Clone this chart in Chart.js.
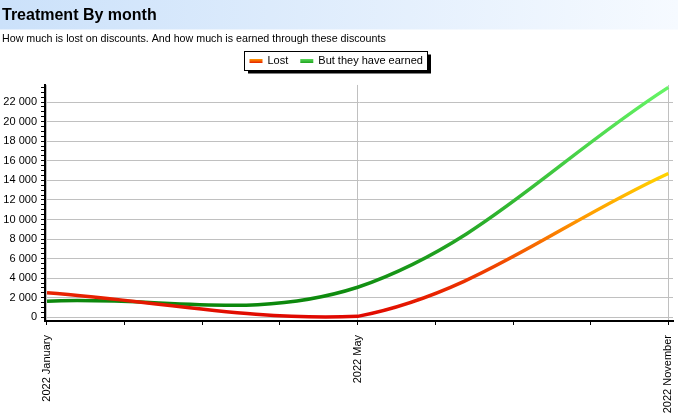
<!DOCTYPE html>
<html><head><meta charset="utf-8">
<script src="https://cdn.jsdelivr.net/npm/chart.js@4.4.1/dist/chart.umd.min.js"></script>
<style>html,body{margin:0;padding:0;background:#fff;} #wrap{width:678px;height:420px;position:relative;}</style>
</head><body><div id="wrap"><canvas id="c"></canvas></div>
<script>
const months = ['2022 January', '2022 May', '2022 November'];
const lostValues = [2500, 100, 14700];
const earnedValues = [1650, 3070, 23500];
const seriesNames = ['Lost', 'But they have earned'];
const titleText = 'Treatment By month';
const subtitleText = 'How much is lost on discounts. And how much is earned through these discounts';
const yMin = -375, yMax = 23750, yGridStep = 125, yMinorStep = 500, yMajorStep = 2000;
const xMinorStep = 0.25;

const FONT = 'Arial, "Liberation Sans", sans-serif';
function fmt(v){ return String(v).replace(/\B(?=(\d{3})+(?!\d))/g, ' '); }

function lineGradient(stops){
  return function(context){
    const chart = context.chart;
    const area = chart.chartArea;
    if (!area || !chart.scales.y) return stops[0][1];
    const ys = chart.scales.y;
    const vals = context.dataset.data.map(p => p.y);
    const lo = Math.min(...vals), hi = Math.max(...vals);
    const g = chart.ctx.createLinearGradient(0, ys.getPixelForValue(lo), 0, ys.getPixelForValue(hi));
    stops.forEach(s => g.addColorStop(s[0], s[1]));
    return g;
  };
}

const swatches = [
  [['0', '#ff9a00'], ['1', '#e52000']],
  [['0', '#5ad85a'], ['1', '#1fa51f']]
];

const titleBar = {
  id: 'titleBar',
  beforeDraw(chart){
    const ctx = chart.ctx;
    ctx.save();
    ctx.fillStyle = '#fff';
    ctx.fillRect(0, 0, chart.width, chart.height);
    const g = ctx.createLinearGradient(0, 0, chart.width, 0);
    g.addColorStop(0, '#cbe1fa');
    g.addColorStop(1, '#f6faff');
    ctx.fillStyle = g;
    ctx.fillRect(0, 0, chart.width, 29.5);
    ctx.restore();
  }
};

const boxLegend = {
  id: 'boxLegend',
  afterDraw(chart){
    const ctx = chart.ctx;
    ctx.save();
    ctx.font = '11px ' + FONT;
    const sw = 13, gapS = 5, gapI = 12, pad = 5;
    const items = chart.data.datasets.map((ds, i) => ({label: ds.label, w: ctx.measureText(ds.label).width, i}));
    let total = pad * 2 + gapI * (items.length - 1);
    items.forEach(it => total += sw + gapS + it.w);
    total = Math.round(total);
    const cx = 335, top = 51, h = 19;
    const left = Math.round(cx - total / 2) + 0.5;
    ctx.fillStyle = '#000';
    ctx.fillRect(left + 3.5, top + 3.5, total, h);
    ctx.fillStyle = '#fff';
    ctx.fillRect(left, top, total, h);
    ctx.strokeStyle = '#000';
    ctx.lineWidth = 1;
    ctx.strokeRect(left, top + 0.5, total, h);
    let x = left + pad;
    const cy = top + h / 2 + 0.5;
    items.forEach(it => {
      const g = ctx.createLinearGradient(0, cy - 2, 0, cy + 2);
      swatches[it.i].forEach(s => g.addColorStop(+s[0], s[1]));
      ctx.fillStyle = g;
      ctx.fillRect(x, cy - 2, sw, 4);
      x += sw + gapS;
      ctx.fillStyle = '#000';
      ctx.textBaseline = 'middle';
      ctx.textAlign = 'left';
      ctx.fillText(it.label, x, cy);
      x += it.w + gapI;
    });
    ctx.restore();
  }
};

new Chart(document.getElementById('c'), {
  type: 'line',
  data: {
    datasets: [
      {
        label: seriesNames[0],
        data: months.map((m, i) => ({x: i, y: lostValues[i]})),
        borderColor: lineGradient([[0, '#e00800'], [0.35, '#f04400'], [0.7, '#ff9c00'], [1, '#ffd400']]),
        borderWidth: 3.5, tension: 0.36, pointRadius: 0, fill: false
      },
      {
        label: seriesNames[1],
        data: months.map((m, i) => ({x: i, y: earnedValues[i]})),
        borderColor: lineGradient([[0, '#0c880c'], [0.5, '#36bc36'], [1, '#66f566']]),
        borderWidth: 3.5, tension: 0.37, pointRadius: 0, fill: false
      }
    ]
  },
  options: {
    responsive: true, maintainAspectRatio: false, animation: false,
    layout: {padding: {left: 2, right: 5, top: 0, bottom: 0}},
    plugins: {
      legend: {display: false},
      tooltip: {enabled: false},
      title: {display: true, text: titleText, align: 'start', color: '#000',
        font: {family: FONT, size: 16, weight: 'bold'}, padding: {top: 6, bottom: 3}},
      subtitle: {display: true, text: subtitleText, align: 'start', color: '#000',
        font: {family: FONT, size: 10.7}, padding: {top: 4, bottom: 39.9}}
    },
    scales: {
      x: {
        type: 'linear', min: -0.0064, max: 2.015,
        ticks: {stepSize: xMinorStep, autoSkip: false, includeBounds: false, minRotation: 90, maxRotation: 90,
          padding: 10, color: '#000', font: {family: FONT, size: 11},
          callback: v => Number.isInteger(v) ? months[v] : ''},
        grid: {color: c => (c.tick && Number.isInteger(c.tick.value)) ? '#c0c0c0' : 'rgba(0,0,0,0)',
          tickColor: '#000', tickLength: 4, lineWidth: 1},
        border: {display: true, color: '#000', width: 2},
        afterFit: s => { s.height = 99; s.paddingLeft = 0; s.paddingRight = 0; }
      },
      y: {
        min: yMin, max: yMax,
        ticks: {stepSize: yGridStep, autoSkip: false, includeBounds: false, padding: 4, color: '#000',
          font: {family: FONT, size: 11},
          callback: v => (v >= 0 && v % yMajorStep === 0) ? fmt(v) : ''},
        grid: {color: c => (c.tick && c.tick.value >= 0 && c.tick.value % yMajorStep === 0) ? '#c0c0c0' : 'rgba(0,0,0,0)',
          tickColor: c => (c.tick && c.tick.value % yMinorStep === 0) ? '#000' : 'rgba(0,0,0,0)',
          tickLength: 4, lineWidth: 1},
        border: {display: true, color: '#000', width: 2},
        afterFit: s => { s.width = 43; s.paddingTop = 0; s.paddingBottom = 0; }
      }
    }
  },
  plugins: [titleBar, boxLegend]
});
</script>
</body></html>
